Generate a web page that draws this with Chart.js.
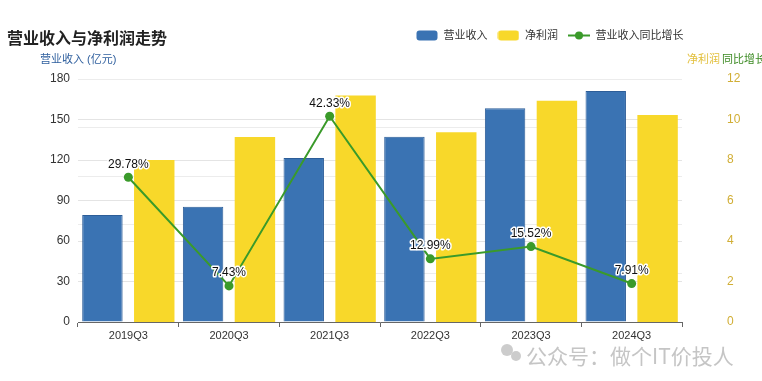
<!DOCTYPE html>
<html>
<head>
<meta charset="utf-8">
<script src="https://cdn.jsdelivr.net/npm/chart.js@4.4.1/dist/chart.umd.min.js"></script>
<style>
  html, body { margin: 0; padding: 0; background: #ffffff; }
  #wrap { position: relative; width: 762px; height: 381px; }
</style>
</head>
<body>
<div id="wrap"><canvas id="c" width="762" height="381"></canvas></div>
<script>
// ---- data ----
const categories = ['2019Q3', '2020Q3', '2021Q3', '2022Q3', '2023Q3', '2024Q3'];
const revenue = [79.3, 85.4, 121.5, 137.3, 158.3, 171.1];        // 营业收入 (亿元), left axis
const netProfit = [8.0, 9.14, 11.18, 9.37, 10.93, 10.22];        // 净利润, right axis
const revenueGrowth = [29.78, 7.43, 42.33, 12.99, 15.52, 7.91];  // 营业收入同比增长 (%)
const leftTicks = [0, 30, 60, 90, 120, 150, 180];
const rightTicks = [0, 2, 4, 6, 8, 10, 12];

const FONT = "'Liberation Sans', 'Noto Sans CJK SC', sans-serif";
const BLUE = '#3a73b3';
const YELLOW = '#f8d82a';
const GREEN = '#3a9a2a';

function makeIcon(kind, color) {
  const c = document.createElement('canvas');
  c.width = 22; c.height = 11;
  const g = c.getContext('2d');
  if (kind === 'box') {
    g.fillStyle = color;
    g.beginPath();
    g.roundRect(0.5, 0.5, 21, 10, 3);
    g.fill();
  } else {
    g.strokeStyle = color; g.lineWidth = 2;
    g.beginPath(); g.moveTo(0, 5.5); g.lineTo(22, 5.5); g.stroke();
    g.fillStyle = color;
    g.beginPath(); g.arc(11, 5.5, 4, 0, Math.PI * 2); g.fill();
  }
  return c;
}
const icons = [makeIcon('box', BLUE), makeIcon('box', YELLOW), makeIcon('line', GREEN)];

const layoutTweaks = {
  id: 'layoutTweaks',
  beforeLayout(chart) {
    const lg = chart.legend;
    if (lg && !lg._patched) {
      const f = lg.fit;
      lg.fit = function () { f.call(this); this.height = 59; };
      lg._patched = true;
    }
  },
  afterLayout(chart) {
    if (chart.legend) chart.legend.left = 406;
  }
};

const decorations = {
  id: 'decorations',
  afterDatasetsDraw(chart) {
    const ctx = chart.ctx;
    const meta = chart.getDatasetMeta(2);
    ctx.save();
    ctx.font = '12px ' + FONT;
    ctx.textAlign = 'center';
    ctx.textBaseline = 'middle';
    ctx.lineJoin = 'round';
    meta.data.forEach((pt, i) => {
      const txt = revenueGrowth[i].toFixed(2) + '%';
      ctx.strokeStyle = '#ffffff';
      ctx.lineWidth = 3;
      ctx.strokeText(txt, pt.x, pt.y - 13);
      ctx.fillStyle = '#111111';
      ctx.fillText(txt, pt.x, pt.y - 13);
    });
    ctx.restore();
  },
  afterDraw(chart) {
    const ctx = chart.ctx;
    ctx.save();
    // title
    ctx.font = "bold 16px 'Noto Sans CJK SC', sans-serif";
    ctx.fillStyle = '#222222';
    ctx.textBaseline = 'middle';
    ctx.textAlign = 'left';
    ctx.fillText('营业收入与净利润走势', 7, 38);
    // axis titles
    ctx.font = "11px " + FONT;
    ctx.fillStyle = '#2f5f9e';
    ctx.fillText('营业收入 (亿元)', 40, 60);
    ctx.fillStyle = '#e2bf3a';
    ctx.fillText('净利润', 687, 60);
    ctx.fillStyle = '#3b8a22';
    ctx.fillText('同比增长', 722, 60);
    // watermark
    ctx.globalAlpha = 0.5;
    ctx.fillStyle = '#9a9a9a';
    ctx.beginPath(); ctx.arc(507, 350, 6, 0, Math.PI * 2); ctx.fill();
    ctx.beginPath(); ctx.arc(516, 356, 5, 0, Math.PI * 2); ctx.fill();
    ctx.font = "21px 'Noto Sans CJK SC', sans-serif";
    ctx.lineWidth = 2;
    ctx.strokeStyle = '#ffffff';
    ctx.strokeText('公众号：做个IT价投人', 526, 356);
    ctx.fillStyle = '#8c8c8c';
    ctx.fillText('公众号：做个IT价投人', 526, 356);
    ctx.restore();
  }
};

new Chart(document.getElementById('c'), {
  data: {
    labels: categories,
    datasets: [
      {
        type: 'bar', label: '营业收入', data: revenue, yAxisID: 'y',
        backgroundColor: BLUE, borderColor: '#2c5d98', borderWidth: 1,
        categoryPercentage: 1.03, barPercentage: 0.78, order: 1
      },
      {
        type: 'bar', label: '净利润', data: netProfit, yAxisID: 'y1',
        backgroundColor: YELLOW, borderWidth: 0,
        categoryPercentage: 1.03, barPercentage: 0.78, order: 1
      },
      {
        type: 'line', label: '营业收入同比增长', data: revenueGrowth, yAxisID: 'y2',
        borderColor: GREEN, backgroundColor: GREEN, borderWidth: 2,
        pointRadius: 4.5, pointBackgroundColor: GREEN, pointBorderWidth: 0,
        tension: 0, order: 0
      }
    ]
  },
  options: {
    responsive: false,
    animation: false,
    devicePixelRatio: 1,
    layout: { padding: { top: 20, left: 0, right: 0, bottom: 0 } },
    plugins: {
      legend: {
        display: true, position: 'top', align: 'start',
        labels: {
          usePointStyle: true, pointStyleWidth: 22, boxHeight: 11,
          padding: 10, color: '#333333',
          font: { size: 11, family: FONT },
          generateLabels(chart) {
            const items = Chart.defaults.plugins.legend.labels.generateLabels(chart);
            items.sort((a, b) => a.datasetIndex - b.datasetIndex);
            items.forEach((it) => { it.pointStyle = icons[it.datasetIndex]; });
            return items;
          }
        }
      },
      title: { display: false },
      tooltip: { enabled: false }
    },
    scales: {
      x: {
        grid: { offset: true, drawOnChartArea: false, drawTicks: true, tickLength: 5, color: '#666666' },
        border: { display: true, color: '#666666' },
        ticks: { color: '#333333', font: { size: 11, family: FONT }, padding: 2 },
        afterFit(s) { s.height = 59; }
      },
      y: {
        position: 'left', min: 0, max: 180,
        afterBuildTicks(s) { s.ticks = leftTicks.map(v => ({ value: v })); },
        grid: { color: '#e4e4e4', drawTicks: false },
        border: { display: false },
        ticks: { color: '#333333', font: { size: 12, family: FONT }, padding: 8 },
        afterFit(s) { s.width = 78; }
      },
      y2: {
        position: 'right', min: 0, max: 50,
        ticks: { display: false, stepSize: 10 },
        grid: { color: '#ececec', drawTicks: false },
        border: { display: false },
        afterFit(s) { s.width = 0; }
      },
      y1: {
        position: 'right', min: 0, max: 12,
        afterBuildTicks(s) { s.ticks = rightTicks.map(v => ({ value: v })); },
        grid: { display: false, drawTicks: false },
        border: { display: false },
        ticks: { color: '#d1ae35', font: { size: 12, family: FONT }, padding: 45 },
        afterFit(s) { s.width = 80; }
      }
    }
  },
  plugins: [layoutTweaks, decorations]
});
</script>
</body>
</html>
